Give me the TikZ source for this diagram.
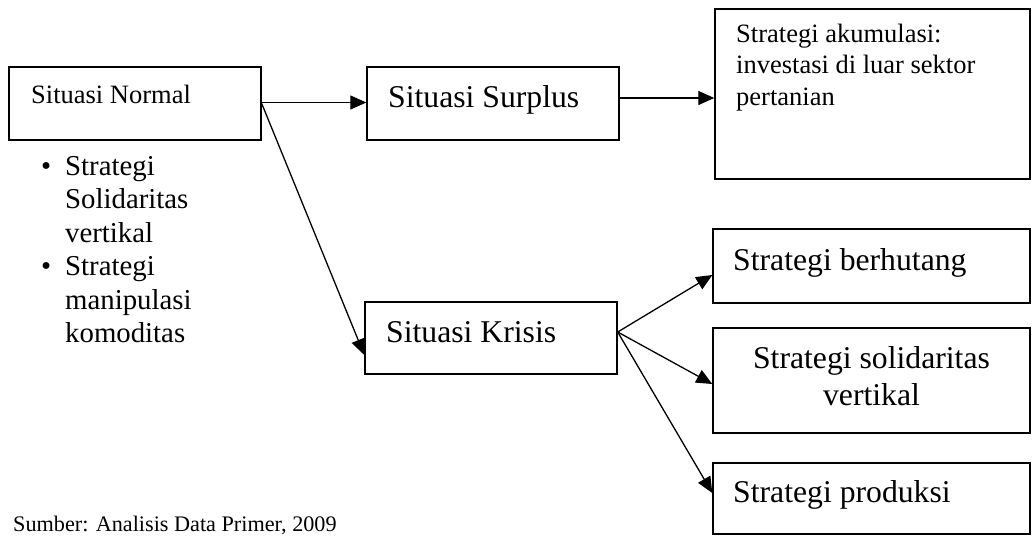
\documentclass[tikz,border=0pt]{standalone}
\usepackage{fontspec}
\setmainfont{Liberation Serif}
\usetikzlibrary{arrows.meta}
\tikzset{
  box/.style={draw, line width=1.4pt, inner sep=0pt},
  big/.style={font=\fontsize{31.7}{36}\selectfont, inner sep=0pt, anchor=base west},
  bigc/.style={font=\fontsize{31.7}{36}\selectfont, inner sep=0pt, anchor=base},
  small/.style={font=\fontsize{26.5}{30}\selectfont, inner sep=0pt, anchor=base west},
  mid/.style={font=\fontsize{28.8}{33}\selectfont, inner sep=0pt, anchor=base west},
  capt/.style={font=\fontsize{22.2}{26}\selectfont, inner sep=0pt, anchor=base west},
  arr/.style={line width=1.3pt, -{Triangle[length=16pt,width=14pt]}}
}
\begin{document}
\begin{tikzpicture}[x=1pt,y=-1pt]
\useasboundingbox (0,0) rectangle (1032,535);
% boxes
\node[box, minimum width=252pt, minimum height=73pt] (n) at (135,103.5) {};
\node[box, minimum width=252pt, minimum height=73pt] (s) at (493,103.5) {};
\node[box, minimum width=315pt, minimum height=170pt] (a) at (872.5,94) {};
\node[box, minimum width=252pt, minimum height=72pt] (k) at (491,338) {};
\node[box, minimum width=317pt, minimum height=74pt] (b) at (871.5,266) {};
\node[box, minimum width=317pt, minimum height=105pt] (v) at (871.5,380.5) {};
\node[box, minimum width=317pt, minimum height=71pt] (p) at (871.5,498.5) {};
% texts
\node[small] (tn) at (31,103) {Situasi Normal};
\node[big] (ts) at (388,107) {Situasi Surplus};
\node[small] (ta1) at (736,43) {Strategi akumulasi:};
\node[small] (ta2) at (736,74) {investasi di luar sektor};
\node[small] (ta3) at (736,105) {pertanian};
\node[big] (tk) at (386,342) {Situasi Krisis};
\node[big] (tb) at (733,270) {Strategi berhutang};
\node[bigc] (tv1) at (871.5,368) {Strategi solidaritas};
\node[bigc] (tv2) at (871.5,405) {vertikal};
\node[big] (tp) at (733,502) {Strategi produksi};
% bullet list
\node[mid] (b1) at (41,175) {•};
\node[mid] (l1a) at (65,175) {Strategi};
\node[mid] (l1b) at (65,208.5) {Solidaritas};
\node[mid] (l1c) at (65,242) {vertikal};
\node[mid] (b2) at (41,275.5) {•};
\node[mid] (l2a) at (65,275.5) {Strategi};
\node[mid] (l2b) at (65,309) {manipulasi};
\node[mid] (l2c) at (65,342.5) {komoditas};
% caption
\node[capt] (cap) at (13,531) {Sumber: Analisis Data Primer, 2009};
% arrows
\draw[arr] ([yshift=1pt]n.east) -- ([yshift=1pt]s.west);
\draw[arr] ([yshift=5.5pt]s.east) -- ([yshift=5.5pt]s.east -| a.west);
\draw[arr] ([yshift=0pt]n.east) -- ([yshift=-17pt]k.west);
\draw[arr] ([yshift=6pt]k.east) -- ([yshift=-9pt]b.west);
\draw[arr] ([yshift=6pt]k.east) -- ([yshift=-3.5pt]v.west);
\draw[arr] ([yshift=6pt]k.east) -- ([yshift=5.5pt]p.west);
\end{tikzpicture}
\end{document}
